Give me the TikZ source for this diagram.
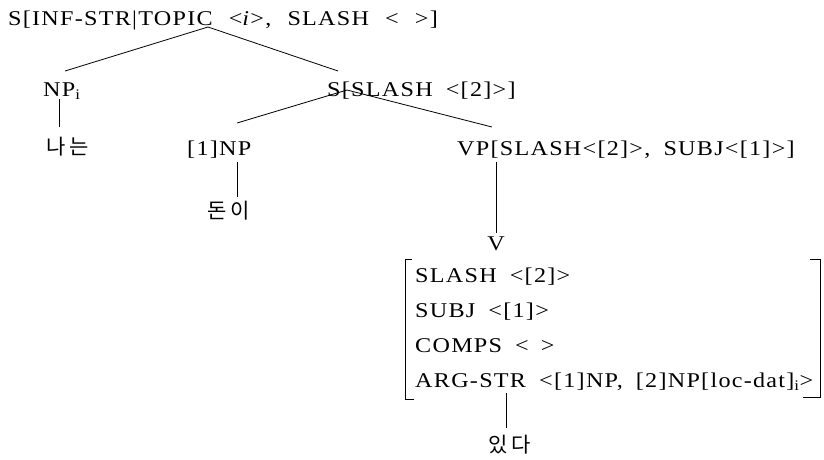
\documentclass[tikz,border=0pt]{standalone}
\usepackage{fontspec}
\setmainfont{Liberation Serif}[FakeStretch=1.15, LetterSpace=6, WordSpace=1.8]
\newfontfamily\krfont{Noto Sans CJK KR}[LetterSpace=20]
\newcommand{\wsp}{\ \hspace{3pt}}
\begin{document}
\begin{tikzpicture}[x=1pt,y=-1pt,
  lbl/.style={anchor=base west, inner sep=0pt, font=\fontsize{21}{24}\selectfont},
  krl/.style={anchor=base west, inner sep=0pt, font=\krfont\fontsize{21}{24}\selectfont},
  edge/.style={draw, line width=0.8pt},
  brk/.style={draw, line width=0.8pt}]
\fill[white] (0,0) rectangle (824,459);
\useasboundingbox (0,0) rectangle (824,459);
% nodes
\node[lbl] (top) at (8,25) {S[INF-STR|TOPIC\wsp<\textit{i}>,\wsp SLASH\wsp<\wsp>]};
\node[lbl] (npi) at (43,96) {NP\textsubscript{i}};
\node[lbl] (sslash) at (327,96) {S[SLASH <[2]>]};
\node[krl] (nanun) at (46,154) {나는};
\node[lbl] (np1) at (187,155) {[1]NP};
\node[lbl] (vp) at (457,155) {VP[SLASH<[2]>, SUBJ<[1]>]};
\node[krl] (doni) at (207,218) {돈이};
\node[lbl, anchor=base] (v) at (496,250) {V};
\node[lbl] (r1) at (415,282) {SLASH <[2]>};
\node[lbl] (r2) at (415,317) {SUBJ <[1]>};
\node[lbl] (r3) at (415,352) {COMPS <\hspace{12pt}>};
\node[lbl] (r4) at (415,387) {ARG-STR <[1]NP, [2]NP[loc-dat]\textsubscript{i}>};
\node[krl] (itda) at (488,452) {있다};
% junction / end coordinates
\coordinate (jtop) at (208,27);
\coordinate (enpi) at (65,71);
\coordinate (ess) at (338,71);
\coordinate (jnpi) at (59,99);
\coordinate (enan) at (59,127);
\coordinate (jss) at (347,90);
\coordinate (enp1) at (237,123);
\coordinate (evp) at (492,127);
\coordinate (jnp1) at (237,162);
\coordinate (edon) at (237,197);
\coordinate (jvp) at (496,162);
\coordinate (ev) at (496,233);
\coordinate (javm) at (506,393);
\coordinate (eitda) at (506,428);
% connectors
\draw[edge] (jtop) -- (enpi);
\draw[edge] (jtop) -- (ess);
\draw[edge] (jnpi) -- (enan);
\draw[edge] (jss) -- (enp1);
\draw[edge] (jss) -- (evp);
\draw[edge] (jnp1) -- (edon);
\draw[edge] (jvp) -- (ev);
\draw[edge] (javm) -- (eitda);
% AVM brackets
\draw[brk] (412,259) -- (405,259) -- (405,399) -- (414,399);
\draw[brk] (810,259) -- (820,259) -- (820,397) -- (803,397);
\end{tikzpicture}
\end{document}
